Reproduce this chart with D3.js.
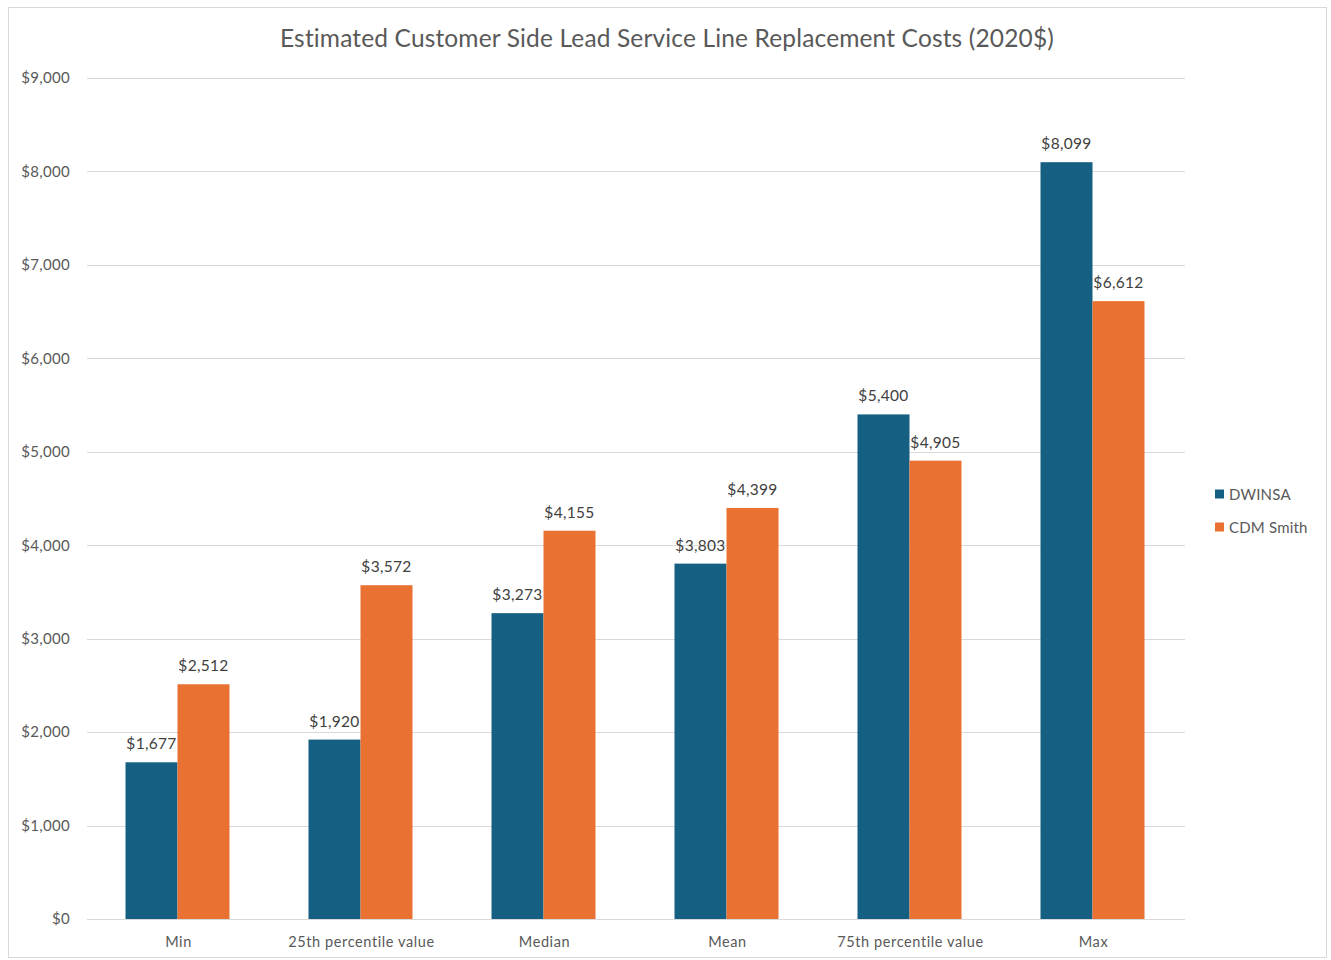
<!DOCTYPE html>
<html>
<head>
<meta charset="utf-8">
<script src="https://cdn.jsdelivr.net/npm/d3@7"></script>
<style>
  html, body { margin: 0; padding: 0; background: #fff; }
  svg { display: block; }
  text { font-family: Lato, "Noto Sans", sans-serif; }
</style>
</head>
<body>
<svg id="chart" width="1331" height="960"></svg>
<script>
const categories = ["Min", "25th percentile value", "Median", "Mean", "75th percentile value", "Max"];
const seriesNames = ["DWINSA", "CDM Smith"];
const dwinsa = [1677, 1920, 3273, 3803, 5400, 8099];
const cdmSmith = [2512, 3572, 4155, 4399, 4905, 6612];
const yTicks = [0, 1000, 2000, 3000, 4000, 5000, 6000, 7000, 8000, 9000];
const seriesColors = ["#156082", "#E97132"];
const title = "Estimated Customer Side Lead Service Line Replacement Costs (2020$)";

const svg = d3.select("#chart");

// Chart area frame
svg.append("rect")
  .attr("x", 8.5).attr("y", 7.5)
  .attr("width", 1318).attr("height", 950)
  .attr("fill", "#fff").attr("stroke", "#d9d9d9").attr("stroke-width", 1);

const plot = { left: 87, right: 1185, top: 78, bottom: 919 };

const x = d3.scaleBand().domain(categories).range([plot.left, plot.right]).padding(0);
const y = d3.scaleLinear().domain([0, 9000]).range([plot.bottom, plot.top]);
const barW = 52;

const fmt = v => "$" + d3.format(",")(v);

// Title
svg.append("text")
  .attr("x", 667).attr("y", 47)
  .attr("text-anchor", "middle")
  .attr("font-size", 24.5)
  .attr("letter-spacing", 0.15)
  .attr("fill", "#595959")
  .text(title);

// Gridlines
svg.append("g").selectAll("line").data(yTicks).join("line")
  .attr("x1", plot.left).attr("x2", plot.right)
  .attr("y1", d => Math.round(y(d)) + 0.5).attr("y2", d => Math.round(y(d)) + 0.5)
  .attr("stroke", "#d9d9d9").attr("stroke-width", 1);

// Y axis labels
const yAxis = d3.axisLeft(y).tickValues(yTicks).tickFormat(fmt).tickSize(0).tickPadding(0);
const gy = svg.append("g").attr("transform", `translate(${plot.left - 17},0)`).call(yAxis);
gy.select(".domain").remove();
gy.selectAll("text").attr("font-size", 15).attr("letter-spacing", 0.3).attr("fill", "#595959")
  .attr("font-family", "Lato, 'Noto Sans', sans-serif");

// X axis labels
const xAxis = d3.axisBottom(x).tickSize(0).tickPadding(0);
const gx = svg.append("g").attr("transform", `translate(0,${plot.bottom + 18})`).call(xAxis);
gx.select(".domain").remove();
gx.selectAll("text").attr("font-size", 14.5).attr("letter-spacing", 0.6).attr("fill", "#595959")
  .attr("font-family", "Lato, 'Noto Sans', sans-serif");

// Bars with value labels
const series = [dwinsa, cdmSmith];
series.forEach((vals, si) => {
  const g = svg.append("g");
  const bx = (c) => x(c) + x.bandwidth() / 2 + (si === 0 ? -barW : 0) - 1;
  g.selectAll("rect").data(vals).join("rect")
    .attr("x", (d, i) => bx(categories[i]))
    .attr("y", d => y(d))
    .attr("width", barW)
    .attr("height", d => y(0) - y(d))
    .attr("fill", seriesColors[si]);
  g.selectAll("text").data(vals).join("text")
    .attr("x", (d, i) => bx(categories[i]) + barW / 2)
    .attr("y", d => y(d) - 13)
    .attr("text-anchor", "middle")
    .attr("font-size", 15.5)
    .attr("letter-spacing", 0.3)
    .attr("fill", "#404040")
    .text(d => fmt(d));
});

// Legend
const legend = svg.append("g");
seriesNames.forEach((name, i) => {
  const ly = 494 + i * 33;
  legend.append("rect")
    .attr("x", 1215).attr("y", ly - 4.5)
    .attr("width", 9).attr("height", 9)
    .attr("fill", seriesColors[i]);
  legend.append("text")
    .attr("x", 1229).attr("y", ly + 5.5)
    .attr("font-size", 15)
    .attr("letter-spacing", 0.2)
    .attr("fill", "#595959")
    .text(name);
});
</script>
</body>
</html>
